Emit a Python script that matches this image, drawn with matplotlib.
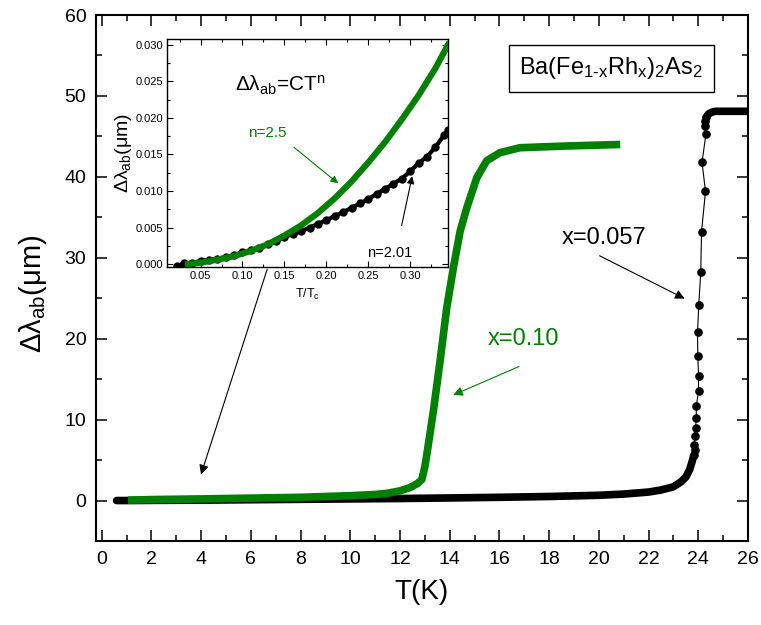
import matplotlib
matplotlib.use("Agg")
import matplotlib.pyplot as plt
from matplotlib.ticker import MultipleLocator, FormatStrFormatter

plt.rcParams["font.family"] = "Liberation Sans"
plt.rcParams["mathtext.fontset"] = "custom"
plt.rcParams["mathtext.rm"] = "Liberation Sans"
plt.rcParams["mathtext.default"] = "regular"

# Main panel: x=0.057 (black) -- dense low-T part and sparse transition points
T_057_base = [0.6, 1.0, 2.0, 4.0, 6.0, 8.0, 10.0, 12.0, 14.0, 16.0, 18.0, 20.0,
              21.0, 22.0, 22.5, 23.0, 23.3, 23.5, 23.65, 23.75, 23.82]
dl_057_base = [0.0, 0.0, 0.02, 0.05, 0.1, 0.15, 0.2, 0.25, 0.32, 0.4, 0.5, 0.65,
               0.8, 1.05, 1.3, 1.7, 2.3, 2.9, 3.8, 4.8, 5.6]
T_057_trans = [23.82, 23.88, 23.84, 23.85, 23.89, 23.92, 23.92, 24.01, 24.01, 23.98,
               23.97, 24.02, 24.10, 24.13, 24.29, 24.15, 24.31, 24.25, 24.27, 24.33]
dl_057_trans = [5.6, 6.2, 6.9, 8.0, 9.0, 10.2, 11.7, 13.5, 15.4, 17.9,
                20.8, 24.2, 28.3, 33.2, 38.2, 41.8, 45.3, 46.3, 46.9, 47.4]
T_057_top = [24.33, 24.42, 24.55, 24.7, 25.0, 25.5, 26.0]
dl_057_top = [47.4, 47.8, 48.0, 48.1, 48.1, 48.1, 48.1]

# Main panel: x=0.10 (green)
T_010 = [1.05, 2.0, 4.0, 6.0, 8.0, 10.0, 11.0, 11.5, 12.0, 12.4, 12.7, 12.88,
         13.0, 13.08, 13.34, 13.61, 13.88, 14.15, 14.42, 14.69, 15.09, 15.49,
         16.03, 16.83, 18.58, 20.86]
dl_010 = [0.05, 0.12, 0.2, 0.3, 0.4, 0.6, 0.75, 0.9, 1.2, 1.6, 2.1, 2.6,
          4.2, 5.7, 11.0, 17.2, 23.8, 28.8, 33.3, 36.2, 39.9, 42.0,
          43.0, 43.6, 43.8, 44.0]

# Inset: low-temperature part vs reduced temperature
t_057 = [0.022, 0.03, 0.04, 0.05, 0.06, 0.07, 0.08, 0.09, 0.10, 0.11, 0.12, 0.13,
         0.14, 0.15, 0.16, 0.17, 0.18, 0.19, 0.20, 0.21, 0.22, 0.23, 0.24, 0.25,
         0.26, 0.27, 0.28, 0.29, 0.30, 0.31, 0.32, 0.33, 0.34, 0.345]
i_057 = [-0.0003, 0.0001, 0.0002, 0.0004, 0.0006, 0.0007, 0.0010, 0.0012, 0.0016,
         0.0019, 0.0022, 0.0027, 0.0031, 0.0037, 0.0041, 0.0045, 0.0050, 0.0055,
         0.0060, 0.0066, 0.0071, 0.0077, 0.0083, 0.0089, 0.0096, 0.0103, 0.0110,
         0.0117, 0.0127, 0.0138, 0.0147, 0.0160, 0.0176, 0.0183]
t_010 = [0.035, 0.05, 0.07, 0.09, 0.11, 0.13, 0.15, 0.17, 0.19, 0.21, 0.23, 0.25,
         0.27, 0.29, 0.31, 0.33, 0.345]
i_010 = [0.0000, 0.0002, 0.0006, 0.0011, 0.0018, 0.0027, 0.0039, 0.0053, 0.0070,
         0.0090, 0.0113, 0.0139, 0.0167, 0.0198, 0.0231, 0.0268, 0.0300]

GREEN = "#008000"
W, H = 761, 625

fig = plt.figure(figsize=(W / 100, H / 100), dpi=100)
ax = fig.add_axes([96 / W, 1 - 541 / H, (748 - 96) / W, (541 - 15) / H])

# x=0.057
ax.plot(T_057_base, dl_057_base, color="black", lw=5.5, solid_capstyle="round", zorder=3)
ax.plot(T_057_top, dl_057_top, color="black", lw=5.5, solid_capstyle="round", zorder=3)
ax.plot(T_057_trans, dl_057_trans, color="black", lw=0.8, marker="o", ms=5.2, zorder=3)
# x=0.10
ax.plot(T_010, dl_010, color=GREEN, lw=5.5, solid_capstyle="butt", zorder=4)

ax.set_xlim(-0.23, 26)
ax.set_ylim(-5, 60)
ax.xaxis.set_major_locator(MultipleLocator(2))
ax.xaxis.set_minor_locator(MultipleLocator(1))
ax.yaxis.set_major_locator(MultipleLocator(10))
ax.yaxis.set_minor_locator(MultipleLocator(5))
ax.tick_params(which="both", direction="in", top=True, right=True, width=1.1)
ax.tick_params(which="major", length=8, labelsize=14, pad=7)
ax.tick_params(which="minor", length=4.5)
for s in ax.spines.values():
    s.set_linewidth(1.5)

ax.set_xlabel("T(K)", fontsize=20, labelpad=8)
ax.set_ylabel(r"$\Delta\lambda_{ab}(\mu m)$", fontsize=21)
ax.yaxis.set_label_coords(-0.072, 0.47)

ax.text(20.5, 53.4, r"$Ba(Fe_{1\text{-}x}Rh_x)_2As_2$", fontsize=17, ha="center", va="center",
        bbox=dict(boxstyle="square,pad=0.45", fc="white", ec="black", lw=1))
ax.text(20.2, 32.4, "x=0.057", fontsize=17, ha="center", va="center")
ax.annotate("", xy=(23.55, 24.8), xytext=(19.93, 30.4),
            arrowprops=dict(arrowstyle="-|>", color="black", lw=0.8, mutation_scale=14))
ax.text(16.95, 20.0, "x=0.10", fontsize=17, ha="center", va="center", color=GREEN)
ax.annotate("", xy=(14.04, 12.9), xytext=(16.89, 16.7),
            arrowprops=dict(arrowstyle="-|>", color=GREEN, lw=0.8, mutation_scale=14))
ax.annotate("", xy=(3.96, 2.9), xytext=(6.69, 28.9),
            arrowprops=dict(arrowstyle="-|>", color="black", lw=0.8, mutation_scale=14))

# Inset
ins = fig.add_axes([167 / W, 1 - 267 / H, (448 - 167) / W, (267 - 39) / H])
ins.plot(t_057, i_057, color="black", lw=3, marker="o", ms=5, zorder=3)
ins.plot(t_010, i_010, color=GREEN, lw=4.5, zorder=4)
ins.set_xlim(0.01, 0.345)
ins.set_ylim(-0.0004, 0.0308)
ins.xaxis.set_major_locator(MultipleLocator(0.05))
ins.xaxis.set_minor_locator(MultipleLocator(0.025))
ins.yaxis.set_major_locator(MultipleLocator(0.005))
ins.yaxis.set_minor_locator(MultipleLocator(0.0025))
ins.xaxis.set_major_formatter(FormatStrFormatter("%.2f"))
ins.yaxis.set_major_formatter(FormatStrFormatter("%.3f"))
ins.tick_params(which="both", direction="in", top=True, right=True, width=0.8)
ins.tick_params(which="major", length=4, labelsize=8, pad=3)
ins.tick_params(which="minor", length=2)
for s in ins.spines.values():
    s.set_linewidth(1)
ins.set_xlabel(r"$T/T_c$", fontsize=9, labelpad=4)
ins.set_ylabel(r"$\Delta\lambda_{ab}(\mu m)$", fontsize=14, labelpad=1)

ins.text(0.145, 0.0245, r"$\Delta\lambda_{ab}$=CT$^n$", fontsize=15, ha="center", va="center")
ins.text(0.129, 0.0179, "n=2.5", fontsize=11, ha="center", va="center", color=GREEN)
ins.annotate("", xy=(0.2167, 0.0108), xytext=(0.159, 0.0162),
             arrowprops=dict(arrowstyle="-|>", color=GREEN, lw=0.8, mutation_scale=11))
ins.text(0.275, 0.0015, "n=2.01", fontsize=10.5, ha="center", va="center")
ins.annotate("", xy=(0.303, 0.0124), xytext=(0.289, 0.0049),
             arrowprops=dict(arrowstyle="-|>", color="black", lw=0.8, mutation_scale=11))

fig.savefig("out.png", dpi=100, facecolor="white")
